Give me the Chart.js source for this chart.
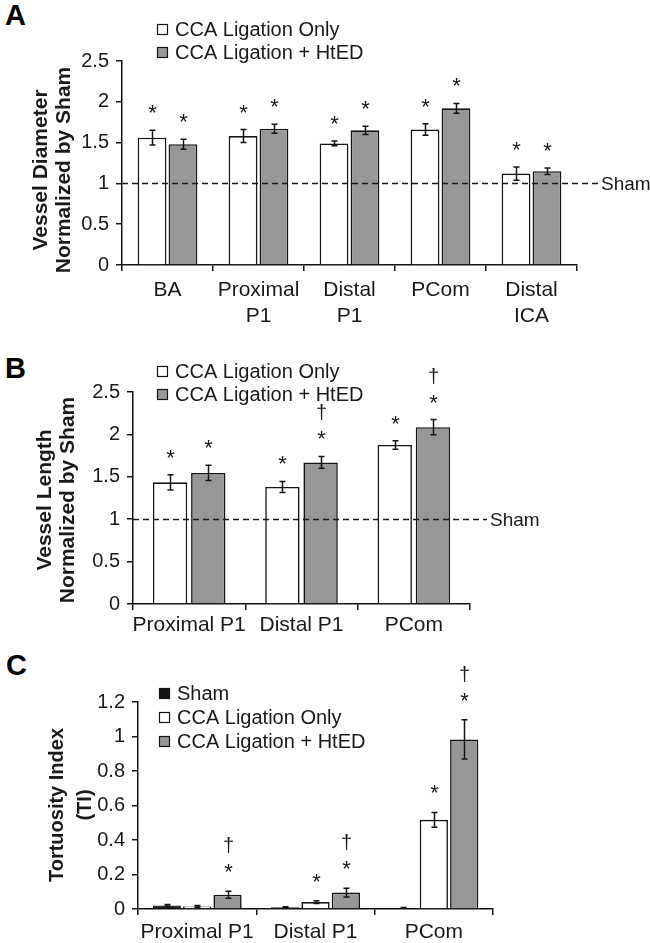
<!DOCTYPE html>
<html>
<head>
<meta charset="utf-8">
<script src="https://cdn.jsdelivr.net/npm/chart.js@4.4.1/dist/chart.umd.min.js"></script>
<style>
  html, body { margin: 0; padding: 0; background: #ffffff; }
  body { width: 650px; height: 943px; position: relative; overflow: hidden;
         font-family: "Liberation Sans", Arial, Helvetica, sans-serif; }
  canvas { position: absolute; left: 0; }
  .letter { position: absolute; font-weight: bold; font-size: 29px; line-height: 1; color: #000; }
</style>
</head>
<body>
<div class="letter" style="left:5px;top:1px">A</div>
<div class="letter" style="left:5px;top:354px">B</div>
<div class="letter" style="left:6px;top:651px">C</div>
<canvas id="chartA" width="650" height="332" style="top:0px"></canvas>
<canvas id="chartB" width="650" height="322" style="top:318px"></canvas>
<canvas id="chartC" width="650" height="303" style="top:640px"></canvas>
<script>
// ---------------- DATA ----------------
// Panel A: vessel diameter normalized by sham
const categoriesA = ['BA', ['Proximal', 'P1'], ['Distal', 'P1'], 'PCom', ['Distal', 'ICA']];
const ligOnlyA    = [1.56, 1.58, 1.49, 1.66, 1.12];
const ligOnlyErrA = [0.09, 0.08, 0.03, 0.07, 0.08];
const ligHtedA    = [1.48, 1.67, 1.65, 1.92, 1.15];
const ligHtedErrA = [0.06, 0.055, 0.05, 0.06, 0.04];
const sigOnlyA    = ['*', '*', '*', '*', '*'];
const sigHtedA    = ['*', '*', '*', '*', '*'];
const yTicksA     = [0, 0.5, 1, 1.5, 2, 2.5];

// Panel B: vessel length normalized by sham
const categoriesB = ['Proximal P1', 'Distal P1', 'PCom'];
const ligOnlyB    = [1.435, 1.38, 1.875];
const ligOnlyErrB = [0.09, 0.065, 0.05];
const ligHtedB    = [1.545, 1.67, 2.085];
const ligHtedErrB = [0.09, 0.07, 0.09];
const sigOnlyB    = ['*', '*', '*'];
const sigHtedB    = ['*', '*†', '*†'];
const yTicksB     = [0, 0.5, 1, 1.5, 2, 2.5];

// Panel C: tortuosity index
const categoriesC = ['Proximal P1', 'Distal P1', 'PCom'];
const shamC       = [0.021, 0.010, 0.006];
const shamErrC    = [0.005, 0.003, 0.002];
const ligOnlyC    = [0.015, 0.040, 0.517];
const ligOnlyErrC = [0.005, 0.008, 0.043];
const ligHtedC    = [0.083, 0.095, 0.983];
const ligHtedErrC = [0.020, 0.025, 0.114];
const sigShamC    = ['', '', ''];
const sigOnlyC    = ['', '*', '*'];
const sigHtedC    = ['*†', '*†', '*†'];
const yTicksC     = [0, 0.2, 0.4, 0.6, 0.8, 1, 1.2];

const shamReference = [1];   // normalized sham level (panels A, B)

// ---------------- STYLE ----------------
const FONT = "'Liberation Sans', Arial, Helvetica, sans-serif";
const INK = '#1a1a1a';
const GRAY = '#979797';
const WHITE = '#ffffff';
const BLACK = '#141414';

Chart.defaults.font.family = FONT;
Chart.defaults.font.size = 20;
Chart.defaults.color = INK;
Chart.defaults.animation = false;

const figPlugin = {
  id: 'fig',
  afterDatasetsDraw(chart, args, o) {
    const ctx = chart.ctx, area = chart.chartArea, ys = chart.scales.y;
    ctx.save();
    // Sham dashed reference line (over the bars)
    if (o.sham) {
      const y = Math.round(ys.getPixelForValue(shamReference[0])) + 0.5;
      ctx.strokeStyle = INK; ctx.lineWidth = 1.7; ctx.setLineDash([6, 4]);
      ctx.beginPath(); ctx.moveTo(area.left, y); ctx.lineTo(area.right + o.shamExtend, y); ctx.stroke();
      ctx.setLineDash([]);
      ctx.font = '19px ' + FONT; ctx.fillStyle = INK;
      ctx.textAlign = 'left'; ctx.textBaseline = 'middle';
      ctx.fillText('Sham', area.right + o.shamExtend + 3, y + 1);
    }
    // Error bars + significance marks
    chart.data.datasets.forEach((ds, i) => {
      const meta = chart.getDatasetMeta(i);
      meta.data.forEach((bar, j) => {
        const v = ds.data[j], e = ds.err[j];
        const x = Math.round(bar.x) + 0.5;
        const yt = ys.getPixelForValue(v + e), yb = ys.getPixelForValue(v - e);
        ctx.strokeStyle = BLACK; ctx.lineWidth = 1.5;
        ctx.beginPath();
        ctx.moveTo(x, yb); ctx.lineTo(x, yt);
        ctx.moveTo(x - 3, yt); ctx.lineTo(x + 3, yt);
        ctx.moveTo(x - 3, yb); ctx.lineTo(x + 3, yb);
        ctx.stroke();
        const s = ds.sig[j] || '';
        ctx.fillStyle = INK; ctx.textAlign = 'center'; ctx.textBaseline = 'alphabetic';
        ctx.font = '22px ' + FONT;
        const starBase = yt - o.starGap;
        if (s.includes('*')) ctx.fillText('*', x, starBase + 10);
        if (s.includes('†')) { ctx.font = '20px ' + FONT; ctx.fillText('†', x, starBase - o.daggerGap); }
      });
    });
    ctx.restore();
  },
  afterDraw(chart, args, o) {
    const ctx = chart.ctx;
    ctx.save();
    // Legend (stacked)
    chart.data.datasets.forEach((ds, i) => {
      const cy = o.legendY + i * o.legendStep;
      ctx.fillStyle = ds.backgroundColor; ctx.strokeStyle = BLACK; ctx.lineWidth = 1.2;
      ctx.fillRect(o.legendX, cy - 5, 10, 11);
      ctx.strokeRect(o.legendX + 0.5, cy - 4.5, 10, 10);
      ctx.fillStyle = INK; ctx.font = '20px ' + FONT;
      ctx.textAlign = 'left'; ctx.textBaseline = 'middle';
      ctx.fillText(ds.label, o.legendX + 18, cy + 1);
    });
    // Rotated two-line y-axis title
    ctx.font = 'bold ' + o.titleSize + 'px ' + FONT; ctx.fillStyle = INK;
    ctx.textAlign = 'center'; ctx.textBaseline = 'middle';
    o.titleLines.forEach((line, k) => {
      ctx.save();
      ctx.translate(o.titleX[k], o.titleY);
      ctx.rotate(-Math.PI / 2);
      ctx.fillText(line, 0, 0);
      ctx.restore();
    });
    ctx.restore();
  }
};

function yScale(max, tickVals, axisWidth) {
  return {
    min: 0, max: max,
    afterBuildTicks: s => { s.ticks = tickVals.map(v => ({ value: v })); },
    ticks: { callback: v => String(v), padding: 7, color: INK, font: { size: 20 } },
    grid: { drawOnChartArea: false, drawTicks: true, tickLength: 6, color: BLACK, lineWidth: 1.5 },
    border: { display: true, color: BLACK, width: 1.5 },
    afterFit: s => { s.width = axisWidth; }
  };
}
function xScale(pad, axisHeight) {
  return {
    ticks: { padding: pad, color: INK, font: { size: 21, lineHeight: 1.2 }, maxRotation: 0, autoSkip: false },
    grid: { drawOnChartArea: false, drawTicks: true, tickLength: 6, color: BLACK, lineWidth: 1.5, offset: true },
    border: { display: true, color: BLACK, width: 1.5 },
    afterFit: s => { s.height = axisHeight; }
  };
}
function barDs(label, data, err, sig, color) {
  return { label, data, err, sig, backgroundColor: color, borderColor: BLACK, borderWidth: 1.6 };
}

// ---------------- PANEL A ----------------
new Chart(document.getElementById('chartA'), {
  type: 'bar',
  data: {
    labels: categoriesA,
    datasets: [
      barDs('CCA Ligation Only', ligOnlyA, ligOnlyErrA, sigOnlyA, WHITE),
      barDs('CCA Ligation + HtED', ligHtedA, ligHtedErrA, sigHtedA, GRAY)
    ]
  },
  options: {
    responsive: false, devicePixelRatio: 1,
    datasets: { bar: { categoryPercentage: 0.68, barPercentage: 0.93 } },
    layout: { padding: { top: 61, right: 73, left: 0, bottom: 0 } },
    scales: { x: xScale(7, 67), y: yScale(2.5, yTicksA, 122) },
    plugins: {
      legend: { display: false }, tooltip: { enabled: false },
      fig: { sham: true, shamExtend: 21, starGap: 20, daggerGap: 17,
             legendX: 157, legendY: 29, legendStep: 23, titleSize: 21,
             titleLines: ['Vessel Diameter', 'Normalized by Sham'], titleX: [41, 64], titleY: 170 }
    }
  },
  plugins: [figPlugin]
});

// ---------------- PANEL B ----------------
new Chart(document.getElementById('chartB'), {
  type: 'bar',
  data: {
    labels: categoriesB,
    datasets: [
      barDs('CCA Ligation Only', ligOnlyB, ligOnlyErrB, sigOnlyB, WHITE),
      barDs('CCA Ligation + HtED', ligHtedB, ligHtedErrB, sigHtedB, GRAY)
    ]
  },
  options: {
    responsive: false, devicePixelRatio: 1,
    datasets: { bar: { categoryPercentage: 0.68, barPercentage: 0.9 } },
    layout: { padding: { top: 74, right: 180, left: 0, bottom: 0 } },
    scales: { x: xScale(3, 36), y: yScale(2.5, yTicksB, 133) },
    plugins: {
      legend: { display: false }, tooltip: { enabled: false },
      fig: { sham: true, shamExtend: 17, starGap: 20, daggerGap: 17,
             legendX: 157, legendY: 53, legendStep: 23, titleSize: 21,
             titleLines: ['Vessel Length', 'Normalized by Sham'], titleX: [45, 68], titleY: 182 }
    }
  },
  plugins: [figPlugin]
});

// ---------------- PANEL C ----------------
new Chart(document.getElementById('chartC'), {
  type: 'bar',
  data: {
    labels: categoriesC,
    datasets: [
      barDs('Sham', shamC, shamErrC, sigShamC, BLACK),
      barDs('CCA Ligation Only', ligOnlyC, ligOnlyErrC, sigOnlyC, WHITE),
      barDs('CCA Ligation + HtED', ligHtedC, ligHtedErrC, sigHtedC, GRAY)
    ]
  },
  options: {
    responsive: false, devicePixelRatio: 1,
    datasets: { bar: { categoryPercentage: 0.77, barPercentage: 0.93 } },
    layout: { padding: { top: 62, right: 157, left: 0, bottom: 0 } },
    scales: { x: xScale(5, 34), y: yScale(1.2, yTicksC, 138) },
    plugins: {
      legend: { display: false }, tooltip: { enabled: false },
      fig: { sham: false, starGap: 22, daggerGap: 17,
             legendX: 159, legendY: 53, legendStep: 24, titleSize: 20,
             titleLines: ['Tortuosity Index', '(TI)'], titleX: [57, 85], titleY: 165 }
    }
  },
  plugins: [figPlugin]
});
</script>
</body>
</html>
